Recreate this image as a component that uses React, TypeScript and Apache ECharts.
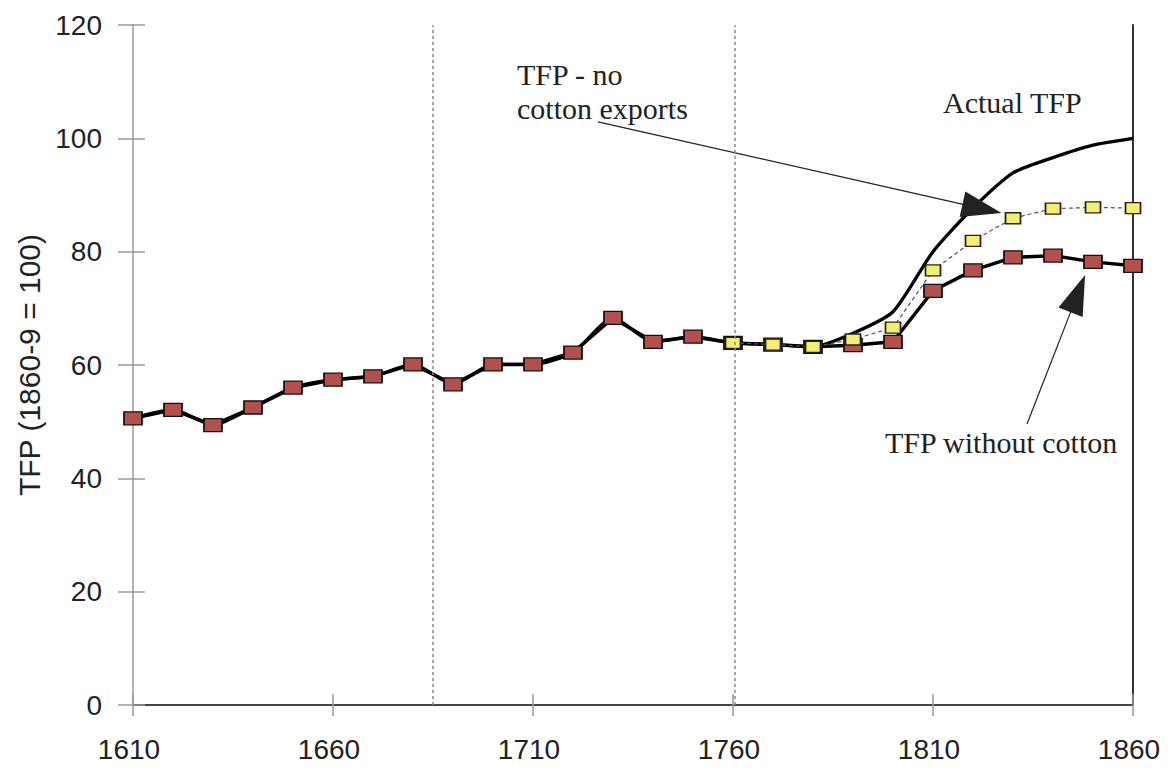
import React, { useEffect, useRef } from "react";
import * as echarts from "echarts";

const years = [1610, 1620, 1630, 1640, 1650, 1660, 1670, 1680, 1690, 1700, 1710, 1720, 1730, 1740, 1750, 1760, 1770, 1780, 1790, 1800, 1810, 1820, 1830, 1840, 1850, 1860];
const withoutCotton = [50.6, 52.1, 49.4, 52.5, 56.0, 57.4, 58.0, 60.1, 56.6, 60.1, 60.1, 62.2, 68.3, 64.1, 65.0, 63.9, 63.6, 63.2, 63.5, 64.1, 73.1, 76.7, 79.0, 79.3, 78.2, 77.5];
const actualTfp = [50.6, 52.1, 49.4, 52.5, 56.0, 57.4, 58.0, 60.1, 56.6, 60.1, 60.1, 62.2, 68.3, 64.1, 65.0, 63.9, 63.6, 63.2, 65.6, 69.4, 80.0, 87.7, 93.9, 96.6, 98.8, 100.0];
const noExportYears = [1760, 1770, 1780, 1790, 1800, 1810, 1820, 1830, 1840, 1850, 1860];
const noExports = [63.9, 63.6, 63.2, 64.5, 66.6, 76.7, 81.9, 85.9, 87.6, 87.8, 87.7];
const periodLines = [1685, 1760.5];
const yTitle = "TFP (1860-9 = 100)";

export default function App() {
  const ref = useRef<HTMLDivElement>(null);
  useEffect(() => {
    if (!ref.current) return;
    const chart = echarts.init(ref.current, null, { renderer: "svg" });
    const sans = "'Liberation Sans', Arial, sans-serif";
    const serif = "'Liberation Serif', 'Times New Roman', serif";
    const tickGray = "#999";
    const xBase = { type: "value", min: 1610, max: 1860, interval: 50, splitLine: { show: false } };
    const yBase = { type: "value", min: 0, max: 120, interval: 20, splitLine: { show: false } };
    const arrowEnd = (coord: number[]) => ({ coord, symbol: "triangle", symbolSize: [26, 40] });
    chart.setOption({
      animation: false,
      backgroundColor: "#fff",
      grid: { left: 133, right: 38, top: 25, bottom: 70, containLabel: false },
      xAxis: [
        {
          ...xBase,
          position: "bottom",
          axisLine: { show: true, lineStyle: { color: "#333", width: 2 } },
          axisTick: { show: true, length: 11, lineStyle: { color: tickGray, width: 1.5 } },
          axisLabel: {
            show: true,
            fontFamily: sans,
            fontSize: 28,
            color: "#222",
            margin: 30,
            padding: [0, 8, 0, 0],
            formatter: (v: number) => String(v),
          },
        },
        {
          ...xBase,
          position: "bottom",
          axisLine: { show: false },
          axisTick: { show: true, inside: true, length: 11, lineStyle: { color: tickGray, width: 1.5 } },
          axisLabel: { show: false },
        },
        {
          ...xBase,
          position: "top",
          axisLine: { show: true, lineStyle: { color: "#444", width: 2 } },
          axisTick: { show: false },
          axisLabel: { show: false },
        },
      ],
      yAxis: [
        {
          ...yBase,
          position: "left",
          axisLine: { show: true, lineStyle: { color: tickGray, width: 1.5 } },
          axisTick: { show: true, length: 15, lineStyle: { color: tickGray, width: 1.5 } },
          axisLabel: { show: true, fontFamily: sans, fontSize: 28, color: "#222", margin: 31 },
          name: yTitle,
          nameLocation: "middle",
          nameGap: 86,
          nameRotate: 90,
          nameTextStyle: { fontFamily: sans, fontSize: 30, color: "#222" },
        },
        {
          ...yBase,
          position: "left",
          axisLine: { show: false },
          axisTick: { show: true, inside: true, length: 12, lineStyle: { color: tickGray, width: 1.5 } },
          axisLabel: { show: false },
        },
        {
          ...yBase,
          position: "right",
          axisLine: { show: true, lineStyle: { color: "#333", width: 2 } },
          axisTick: { show: false },
          axisLabel: { show: false },
        },
      ],
      series: [
        {
          name: "Actual TFP",
          type: "line",
          xAxisIndex: 0,
          yAxisIndex: 0,
          data: years.map((y, i) => [y, actualTfp[i]]),
          smooth: 0.22,
          showSymbol: false,
          symbol: "none",
          lineStyle: { color: "#000", width: 3.3 },
          z: 2,
          markLine: {
            silent: true,
            animation: false,
            label: { show: false },
            lineStyle: { color: "#222", width: 1.2, type: "solid" },
            symbol: ["none", "triangle"],
            symbolSize: 34,
            data: [
              [{ coord: [1726.25, 102.9], symbol: "none" }, arrowEnd([1822.25, 87.6])],
              [{ coord: [1833.5, 49.6], symbol: "none" }, arrowEnd([1846.2, 72.6])],
            ],
            itemStyle: { color: "#000" },
          },
        },
        {
          name: "TFP without cotton",
          type: "line",
          xAxisIndex: 0,
          yAxisIndex: 0,
          data: years.map((y, i) => [y, withoutCotton[i]]),
          symbol: "rect",
          symbolSize: [18, 13],
          itemStyle: { color: "#B4504C", borderColor: "#111", borderWidth: 1.5 },
          lineStyle: { color: "#000", width: 3.5 },
          z: 3,
          markLine: {
            silent: true,
            animation: false,
            symbol: ["none", "none"],
            label: { show: false },
            lineStyle: { color: "#888", width: 1.5, type: [3, 3] },
            data: periodLines.map((v) => ({ xAxis: v })),
          },
        },
        {
          name: "TFP - no cotton exports",
          type: "line",
          xAxisIndex: 0,
          yAxisIndex: 0,
          data: noExportYears.map((y, i) => [y, noExports[i]]),
          symbol: "rect",
          symbolSize: [15, 11],
          itemStyle: { color: "#F4EF6C", borderColor: "#222", borderWidth: 1.5 },
          lineStyle: { color: "#555", width: 1.2, type: [4, 3] },
          z: 4,
        },
      ],
      graphic: [
        {
          type: "text",
          left: 517,
          top: 57,
          style: { text: "TFP - no\ncotton exports", font: `30px ${serif}`, fill: "#222", lineHeight: 34 },
        },
        {
          type: "text",
          left: 943,
          top: 87,
          style: { text: "Actual TFP", font: `30px ${serif}`, fill: "#222" },
        },
        {
          type: "text",
          left: 885,
          top: 427,
          style: { text: "TFP without cotton", font: `30px ${serif}`, fill: "#222" },
        },
      ],
    });
    return () => chart.dispose();
  }, []);
  return <div ref={ref} style={{ position: "fixed", left: 0, top: 0, width: 1171, height: 775 }} />;
}
